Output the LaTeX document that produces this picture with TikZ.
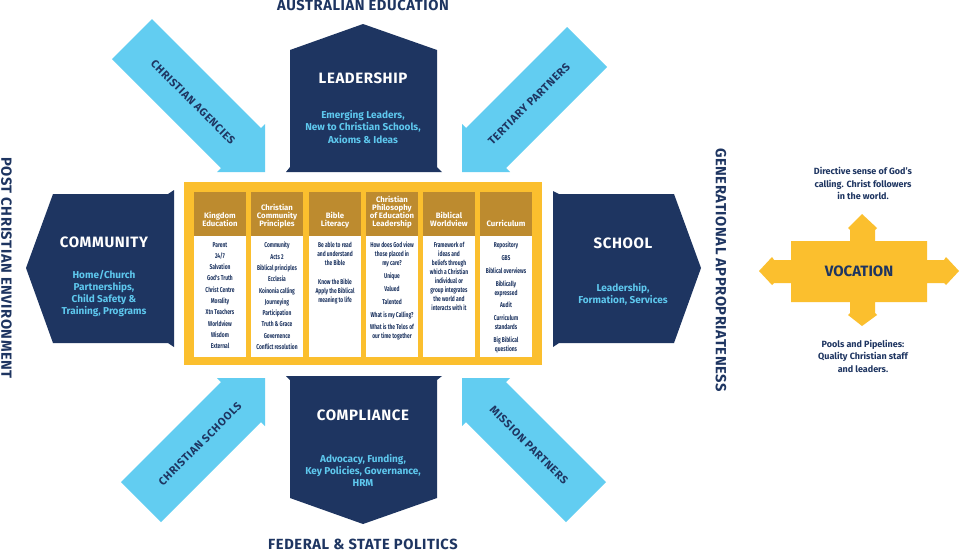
\documentclass[tikz,border=0pt]{standalone}
\usepackage{fontspec}
\setmainfont{Fira Sans}
\newfontfamily\condfont[FakeStretch=0.7]{Fira Sans}
\definecolor{navy}{HTML}{1E3561}
\definecolor{skyb}{HTML}{62CDF1}
\definecolor{gold}{HTML}{FBBF2E}
\definecolor{hdr}{HTML}{BD8B2F}
\definecolor{subb}{HTML}{5EC8EE}
\begin{document}
\begin{tikzpicture}[x=1pt,y=-1pt,
  navyshape/.style={fill=navy,draw=none},
  bluearrow/.style={fill=skyb,draw=none},
  titletext/.style={text=white,inner sep=0,font=\bfseries\fontsize{15}{18}\selectfont\addfontfeatures{LetterSpace=4}},
  subtext/.style={text=subb,inner sep=0,align=center,font=\bfseries\fontsize{10}{12.3}\selectfont},
  sidetext/.style={text=navy,inner sep=0,font=\bfseries\fontsize{14.7}{16}\selectfont\addfontfeatures{LetterSpace=4}},
  arrowtext/.style={text=navy,inner sep=0,font=\bfseries\fontsize{11}{12}\selectfont\addfontfeatures{LetterSpace=6}},
  colhead/.style={text=white,inner sep=0,align=center,anchor=south,text depth=0pt,font=\bfseries\fontsize{7.8}{8.1}\selectfont},
  colbody/.style={text=navy,inner sep=0,align=center,anchor=north,font=\condfont\bfseries\fontsize{7}{9}\selectfont},
  hdrbox/.style={fill=hdr,draw=none},
  bodybox/.style={fill=white,draw=none},
  voctext/.style={text=navy,inner sep=0,align=center,font=\bfseries\fontsize{9}{12.5}\selectfont}
]
\useasboundingbox[fill=white] (0,0) rectangle (960,550);

% ---------- central frame ----------
\fill[gold] (184,182) rectangle (542,365);
\foreach \xs in {194,251,309,366,423,480}{
  \fill[hdrbox] (\xs,192) rectangle ++(52,43.5);
  \fill[bodybox] (\xs,235.5) rectangle ++(52,121.5);
}
\node[colhead] (h1) at (220,227) {Kingdom\\Education};
\node[colhead] (h2) at (277,227) {Christian\\Community\\Principles};
\node[colhead] (h3) at (335,227) {Bible\\Literacy};
\node[colhead] (h4) at (392,227) {Christian\\Philosophy\\of Education\\Leadership};
\node[colhead] (h5) at (449,227) {Biblical\\Worldview};
\node[colhead] (h6) at (506,227) {Curriculum};

\node[colbody] (b1) at (220,242) {Parent\\[2.3pt]24/7\\[2.3pt]Salvation\\[2.3pt]God's Truth\\[2.3pt]Christ Centre\\[2.3pt]Morality\\[2.3pt]Xtn Teachers\\[2.3pt]Worldview\\[2.3pt]Wisdom\\[2.3pt]External};
\node[colbody] (b2) at (277,242) {Community\\[2.3pt]Acts 2\\[2.3pt]Biblical principles\\[2.3pt]Ecclesia\\[2.3pt]Koinonia calling\\[2.3pt]Journeying\\[2.3pt]Participation\\[2.3pt]Truth \& Grace\\[2.3pt]Governence\\[2.3pt]Conflict resolution};
\node[colbody] (b3) at (335,242) {Be able to read\\and understand\\the Bible\\[10pt]Know the Bible\\Apply the Biblical\\meaning to life};
\node[colbody] (b4) at (392,242) {How does God view\\those placed in\\my care?\\[4pt]Unique\\[3.3pt]Valued\\[4pt]Talented\\[4pt]What is my Calling?\\[3.3pt]What is the Telos of\\our time together};
\node[colbody] (b5) at (449,242) {Framework of\\ideas and\\beliefs through\\which a Christian\\individual or\\group integrates\\the world and\\interacts with it};
\node[colbody] (b6) at (506,242) {Repository\\[4pt]GBS\\[3.3pt]Biblical overviews\\[4pt]Biblically\\expressed\\[3.3pt]Audit\\[4pt]Curriculum\\standards\\[4pt]Big Biblical\\questions};

% ---------- navy shapes ----------
\fill[navyshape] (290,50) -- (363,24) -- (437,50) -- (437,167) -- (442,172) -- (286,172) -- (290,167) -- cycle;
\fill[navyshape] (286,376) -- (442,376) -- (437,380) -- (437,498) -- (363,524) -- (290,498) -- (290,380) -- cycle;
\fill[navyshape] (26,268) -- (53,194) -- (168,194) -- (174,190) -- (174,347) -- (168,343) -- (53,343) -- cycle;
\fill[navyshape] (553,191) -- (559,194) -- (674,194) -- (701,268) -- (674,343) -- (559,343) -- (553,347) -- cycle;

\node[titletext] (lead) at (363,78) {LEADERSHIP};
\node[subtext] (leadsub) at (363,127) {Emerging Leaders,\\New to Christian Schools,\\Axioms \& Ideas};
\node[titletext] (comp) at (363,415) {COMPLIANCE};
\node[subtext] (compsub) at (363,470.5) {Advocacy, Funding,\\Key Policies, Governance,\\HRM};
\node[titletext] (comm) at (104,242) {COMMUNITY};
\node[subtext] (commsub) at (104,293.5) {Home/Church\\Partnerships,\\Child Safety \&\\Training, Programs};
\node[titletext] (school) at (623,243) {SCHOOL};
\node[subtext] (schoolsub) at (623,294.5) {Leadership,\\Formation, Services};

% ---------- light blue arrows ----------
% Christian Agencies (points down-right)
\fill[bluearrow] (152,19) -- (261,128) -- (265,124) -- (265,172) -- (217,172) -- (221,168) -- (112,59) -- cycle;
% Tertiary Partners (points down-left)
\fill[bluearrow] (567,27) -- (466,128) -- (462,124) -- (462,172) -- (510,172) -- (506,168) -- (607,67) -- cycle;
% Christian Schools (points up-right)
\fill[bluearrow] (161,522) -- (261,422) -- (265,426) -- (265,378) -- (217,378) -- (221,382) -- (121,482) -- cycle;
% Mission Partners (points up-left)
\fill[bluearrow] (566,522) -- (466,422) -- (462,426) -- (462,378) -- (510,378) -- (506,382) -- (606,482) -- cycle;

\node[arrowtext,rotate=-45] (ca) at (193,102) {CHRISTIAN AGENCIES};
\node[arrowtext,rotate=45] (tp) at (529,104) {TERTIARY PARTNERS};
\node[arrowtext,rotate=45] (cs) at (200,444) {CHRISTIAN SCHOOLS};
\node[arrowtext,rotate=-45] (mp) at (529,445) {MISSION PARTNERS};

% ---------- outer labels ----------
\node[sidetext] (aused) at (363,5.5) {AUSTRALIAN EDUCATION};
\node[sidetext] (fed) at (363,544) {FEDERAL \& STATE POLITICS};
\node[sidetext,rotate=-90] (post) at (6.5,268) {POST CHRISTIAN ENVIRONMENT};
\node[sidetext,rotate=-90] (gen) at (721,270) {GENERATIONAL APPROPRIATENESS};

% ---------- vocation ----------
\fill[gold] (759,271) -- (772,257) -- (774,260) -- (791,260) -- (791,241) -- (850,241) -- (850,230) -- (848,228) -- (862,214) -- (877,228) -- (875,230) -- (875,241) -- (927,241) -- (927,260) -- (944,260) -- (946,257) -- (959,271) -- (946,285) -- (944,283) -- (927,283) -- (927,302) -- (875,302) -- (875,313) -- (877,315) -- (862,326) -- (848,315) -- (850,313) -- (850,302) -- (791,302) -- (791,283) -- (774,283) -- (772,285) -- cycle;
\node[text=navy,inner sep=0,font=\bfseries\fontsize{15}{18}\selectfont] (voc) at (859,271) {VOCATION};
\node[voctext] (voctop) at (863,183.5) {Directive sense of God’s\\calling. Christ followers\\in the world.};
\node[voctext] (vocbot) at (863,356) {Pools and Pipelines:\\Quality Christian staff\\and leaders.};
\end{tikzpicture}
\end{document}
